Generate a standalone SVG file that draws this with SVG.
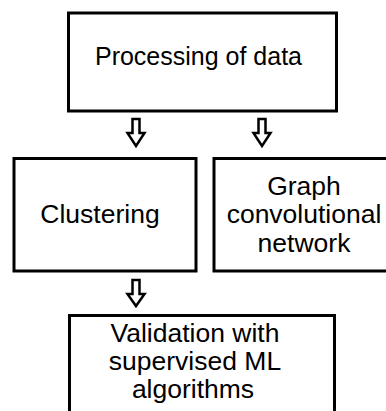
<svg xmlns="http://www.w3.org/2000/svg" width="386" height="411" viewBox="0 0 386 411">
<style>
.box{fill:#fff;stroke:#000;stroke-width:3}
.arr{fill:#fff;stroke:#000;stroke-width:2.5;stroke-linejoin:miter}
text{font-family:"Liberation Sans",Arial,sans-serif;font-size:26.5px;fill:#000;text-anchor:middle}
.t0{font-size:25px}
</style>
<rect width="386" height="411" fill="#fff"/>
<g id="n-processing">
<rect class="box" x="68.5" y="13" width="268" height="98"/>
<text class="t0" x="198.5" y="65">Processing of data</text>
</g>
<g id="n-clustering">
<rect class="box" x="14" y="158.5" width="182" height="112.5"/>
<text x="100" y="223">Clustering</text>
</g>
<g id="n-gcn">
<rect class="box" x="214" y="158.5" width="185" height="112.5"/>
<text x="304" y="195">Graph</text>
<text x="304" y="223">convolutional</text>
<text x="304" y="252">network</text>
</g>
<g id="n-validation">
<rect class="box" x="69.5" y="315.5" width="265" height="110"/>
<text x="195" y="342">Validation with</text>
<text x="195" y="370">supervised ML</text>
<text x="193" y="398">algorithms</text>
</g>
<g id="connectors">
<path class="arr" d="M132.5 119 H139.5 V133 H144.5 L136 146 L127.5 133 H132.5 Z"/>
<path class="arr" d="M258.5 119 H265.5 V133 H270.5 L262 146 L253.5 133 H258.5 Z"/>
<path class="arr" d="M132.5 280 H139.5 V294 H144.5 L136 306 L127.5 294 H132.5 Z"/>
</g>
</svg>
